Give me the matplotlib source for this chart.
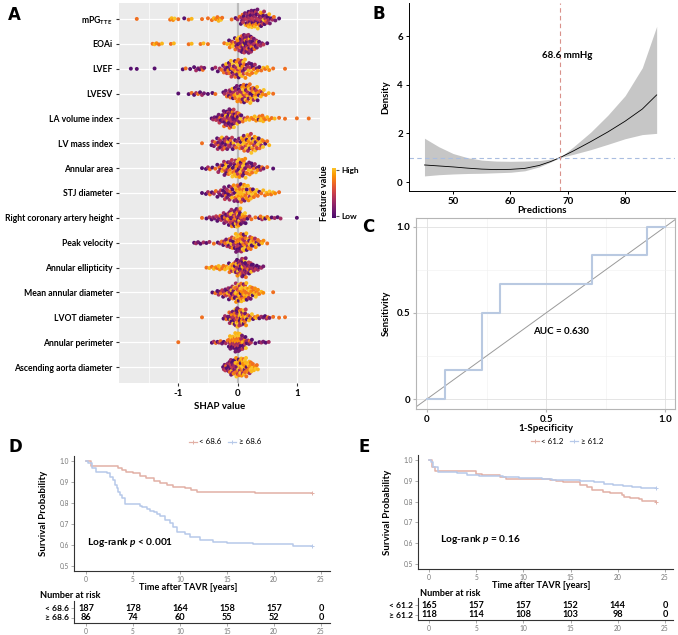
import numpy as np
import matplotlib
matplotlib.use('Agg')
import matplotlib.pyplot as plt
from matplotlib.lines import Line2D

plt.rcParams['font.family'] = ['Lato', 'DejaVu Sans']
plt.rcParams['font.weight'] = 'bold'
plt.rcParams['mathtext.fontset'] = 'custom'
plt.rcParams['mathtext.rm'] = 'Lato:bold'
plt.rcParams['mathtext.bf'] = 'Lato:bold'
plt.rcParams['mathtext.it'] = 'Lato:bold:italic'

# ---------------- panel A: SHAP values, (bin centre, n low-value, n high-value)
features = [r'mPG$_{\mathregular{TTE}}$', 'EOAi', 'LVEF', 'LVESV', 'LA volume index',
            'LV mass index', 'Annular area', 'STJ diameter', 'Right coronary artery height',
            'Peak velocity', 'Annular ellipticity', 'Mean annular diameter',
            'LVOT diameter', 'Annular perimeter', 'Ascending aorta diameter']

mpg_tte = [(-1.7, 0, 1), (-1.1, 0, 4), (-1.0, 0, 1), (-0.9, 1, 0), (-0.8, 0, 2), (-0.6, 0, 1),
           (-0.5, 0, 1), (-0.4, 0, 3), (-0.3, 0, 5), (-0.1, 0, 1), (0.0, 2, 1), (0.1, 8, 2),
           (0.2, 12, 4), (0.3, 12, 4), (0.4, 10, 4), (0.5, 7, 2), (0.6, 3, 1), (0.7, 1, 0)]
eoai = [(-1.4, 0, 3), (-1.3, 0, 2), (-1.1, 0, 2), (-0.8, 0, 2), (-0.6, 0, 2), (-0.5, 0, 1),
        (-0.2, 0, 2), (-0.1, 2, 6), (0.0, 7, 5), (0.1, 19, 3), (0.2, 17, 3), (0.3, 8, 2),
        (0.4, 4, 0), (0.5, 1, 0)]
lvef = [(-1.8, 1, 0), (-1.7, 1, 0), (-1.4, 1, 0), (-0.9, 1, 1), (-0.8, 1, 0), (-0.7, 3, 0),
        (-0.6, 3, 1), (-0.4, 2, 0), (-0.3, 2, 1), (-0.2, 5, 3), (-0.1, 7, 5), (0.0, 6, 8),
        (0.1, 6, 8), (0.2, 5, 5), (0.3, 3, 3), (0.4, 1, 2), (0.5, 0, 3), (0.6, 0, 1), (0.8, 0, 1)]
lvesv = [(-1.0, 1, 0), (-0.8, 1, 1), (-0.7, 2, 1), (-0.6, 3, 0), (-0.5, 1, 0), (-0.4, 1, 1),
         (-0.2, 4, 1), (-0.1, 6, 3), (0.0, 6, 6), (0.1, 7, 9), (0.2, 6, 9), (0.3, 5, 7),
         (0.4, 2, 4), (0.5, 0, 2), (0.6, 0, 1)]
la_volume = [(-0.4, 4, 0), (-0.3, 7, 1), (-0.2, 13, 3), (-0.1, 18, 4), (0.0, 8, 4), (0.1, 2, 2),
             (0.2, 0, 3), (0.3, 0, 4), (0.4, 1, 7), (0.5, 0, 3), (0.6, 0, 2), (0.7, 0, 1),
             (0.8, 0, 1), (1.0, 0, 1), (1.2, 0, 1)]
lv_mass = [(-0.6, 0, 1), (-0.4, 4, 1), (-0.3, 8, 2), (-0.2, 8, 2), (-0.1, 6, 2), (0.0, 3, 3),
           (0.1, 4, 8), (0.2, 4, 10), (0.3, 4, 8), (0.4, 2, 5), (0.5, 1, 2)]
annular_area = [(-0.6, 1, 0), (-0.5, 2, 1), (-0.4, 1, 1), (-0.3, 4, 2), (-0.2, 7, 5), (-0.1, 6, 6),
                (0.0, 6, 8), (0.1, 7, 9), (0.2, 5, 5), (0.3, 3, 3), (0.4, 3, 1), (0.5, 0, 1), (0.6, 1, 0)]
stj = [(-0.6, 1, 0), (-0.5, 2, 1), (-0.4, 2, 1), (-0.3, 5, 0), (-0.2, 9, 1), (-0.1, 7, 3),
       (0.0, 4, 10), (0.1, 3, 11), (0.2, 2, 8), (0.3, 1, 5), (0.4, 1, 2), (0.5, 0, 4),
       (0.6, 0, 3), (0.7, 0, 1)]
rca_height = [(-0.6, 0, 1), (-0.5, 2, 0), (-0.4, 4, 0), (-0.3, 5, 1), (-0.2, 8, 2), (-0.1, 11, 5),
              (0.0, 14, 10), (0.1, 5, 5), (0.2, 2, 1), (0.3, 0, 1), (0.4, 2, 2), (0.5, 1, 2),
              (0.6, 2, 0), (0.7, 2, 0), (1.0, 1, 0)]
peak_velocity = [(-0.7, 3, 0), (-0.6, 2, 0), (-0.5, 2, 0), (-0.4, 0, 1), (-0.3, 2, 1), (-0.2, 4, 2),
                 (-0.1, 6, 4), (0.0, 9, 9), (0.1, 8, 10), (0.2, 5, 7), (0.3, 3, 5), (0.4, 1, 3),
                 (0.5, 0, 1)]
ellipticity = [(-0.5, 0, 2), (-0.4, 0, 3), (-0.3, 0, 5), (-0.2, 0, 4), (-0.1, 2, 8), (0.0, 10, 6),
               (0.1, 21, 5), (0.2, 10, 2), (0.3, 6, 0), (0.4, 3, 0)]
mean_annular = [(-0.4, 1, 1), (-0.3, 4, 1), (-0.2, 6, 2), (-0.1, 8, 4), (0.0, 6, 12), (0.1, 4, 14),
                (0.2, 3, 9), (0.3, 1, 7), (0.4, 0, 3), (0.6, 0, 1)]
lvot = [(-0.6, 0, 1), (-0.2, 3, 1), (-0.1, 9, 5), (0.0, 14, 12), (0.1, 8, 12), (0.2, 2, 4),
        (0.3, 1, 3), (0.4, 3, 0), (0.5, 3, 1), (0.6, 0, 1), (0.7, 0, 1), (0.8, 0, 1)]
annular_perimeter = [(-1.0, 0, 1), (-0.4, 2, 1), (-0.3, 3, 1), (-0.2, 2, 1), (-0.1, 8, 8),
                     (0.0, 16, 16), (0.1, 10, 4), (0.2, 5, 1), (0.3, 1, 0), (0.4, 3, 0), (0.5, 2, 0)]
ascending_aorta = [(-0.2, 7, 1), (-0.1, 15, 3), (0.0, 6, 12), (0.1, 3, 17), (0.2, 2, 12), (0.3, 0, 6)]

shap_rows = [mpg_tte, eoai, lvef, lvesv, la_volume, lv_mass, annular_area, stj, rca_height,
             peak_velocity, ellipticity, mean_annular, lvot, annular_perimeter, ascending_aorta]

# ---------------- panel B: calibration density curve
pred_x = [45, 47.5, 50, 52.5, 55, 57.5, 60, 62.5, 65, 67, 68.6, 71, 74, 77, 80, 83, 85.5]
dens_fit = [0.70, 0.66, 0.62, 0.57, 0.53, 0.51, 0.52, 0.56, 0.68, 0.84, 1.0, 1.28, 1.66, 2.06, 2.5, 3.0, 3.58]
dens_lower = [0.25, 0.30, 0.33, 0.35, 0.36, 0.38, 0.40, 0.46, 0.62, 0.82, 1.0, 1.14, 1.33, 1.55, 1.78, 1.95, 2.0]
dens_upper = [1.80, 1.45, 1.17, 1.0, 0.90, 0.86, 0.85, 0.86, 0.88, 0.94, 1.0, 1.45, 2.05, 2.75, 3.55, 4.70, 6.4]
cutoff = 68.6

# ---------------- panel C: ROC
roc_fpr = [0, 1/13, 1/13, 3/13, 3/13, 4/13, 4/13, 9/13, 9/13, 12/13, 12/13, 1]
roc_tpr = [0, 0, 1/6, 1/6, 3/6, 3/6, 4/6, 4/6, 5/6, 5/6, 1, 1]

# ---------------- panels D, E: Kaplan-Meier
d_lo_t = [0, 0.5, 3.4, 3.8, 4.3, 5.0, 5.7, 6.4, 7.2, 7.9, 8.6, 9.3, 10.5, 11.2, 11.8, 18.0, 24.0]
d_lo_s = [1.0, 0.978, 0.968, 0.958, 0.949, 0.941, 0.930, 0.917, 0.906, 0.894, 0.885, 0.875, 0.870,
          0.862, 0.854, 0.848, 0.848]
d_hi_t = [0, 0.25, 0.6, 1.1, 2.2, 2.55, 2.9, 3.1, 3.3, 3.45, 3.6, 3.8, 4.15, 5.7, 6.0, 6.45, 6.8,
          7.2, 7.6, 7.9, 8.4, 8.9, 9.3, 9.65, 10.5, 11.1, 12.1, 13.5, 15.0, 17.8, 22.0, 24.0]
d_hi_s = [1.0, 0.989, 0.965, 0.950, 0.941, 0.925, 0.910, 0.886, 0.870, 0.854, 0.838, 0.822, 0.795,
          0.787, 0.779, 0.770, 0.763, 0.755, 0.748, 0.740, 0.719, 0.703, 0.684, 0.663, 0.652, 0.637,
          0.624, 0.616, 0.608, 0.603, 0.595, 0.595]
e_lo_t = [0, 0.3, 0.6, 5.0, 5.6, 7.5, 8.2, 12.8, 13.5, 14.2, 16.0, 16.7, 17.3, 18.4, 19.2, 20.4,
          20.7, 21.3, 22.2, 22.6, 24.0]
e_lo_s = [1.0, 0.965, 0.948, 0.934, 0.928, 0.918, 0.910, 0.905, 0.900, 0.894, 0.880, 0.870, 0.858,
          0.847, 0.842, 0.830, 0.820, 0.815, 0.812, 0.804, 0.800]
e_hi_t = [0, 0.2, 0.4, 0.9, 3.0, 4.0, 5.3, 7.8, 9.5, 12.0, 13.0, 14.5, 16.0, 17.5, 18.5, 19.5,
          20.5, 21.5, 22.5, 24.0]
e_hi_s = [1.0, 0.990, 0.965, 0.942, 0.936, 0.930, 0.925, 0.920, 0.915, 0.910, 0.906, 0.902, 0.897,
          0.892, 0.887, 0.882, 0.877, 0.872, 0.867, 0.867]
risk_times = [0, 5, 10, 15, 20, 25]
d_risk_lo = [187, 178, 164, 158, 157, 0]
d_risk_hi = [86, 74, 60, 55, 52, 0]
e_risk_lo = [165, 157, 157, 152, 144, 0]
e_risk_hi = [118, 114, 108, 103, 98, 0]

KM_RED = '#e2b0a6'
KM_BLUE = '#b7c9e9'

W, H = 678, 635
fig = plt.figure(figsize=(W / 100, H / 100), dpi=100)


def add_ax(x0, y0, x1, y1):
    return fig.add_axes([x0 / W, 1 - y1 / H, (x1 - x0) / W, (y1 - y0) / H])


def ftext(x, y, s, **kw):
    return fig.text(x / W, 1 - y / H, s, **kw)


cmap = matplotlib.colormaps['inferno']


def fv_color(v):
    return cmap(0.22 + 0.64 * v)


def vdc(i):
    v, den = 0.0, 1.0
    while i:
        den *= 2
        i, r = divmod(i, 2)
        v += r / den
    return v


# ================= A =================
axA = add_ax(119, 3, 320, 383)
axA.set_facecolor('#ebebeb')
lo_shades = [0.05, 0.34, 0.16, 0.45]
hi_shades = [0.72, 0.96, 0.82, 1.0]
ys = np.arange(len(features))[::-1] + 1
for row, y0 in zip(shap_rows, ys):
    row = sorted(row)
    cnt = {round(c, 1): lo + hi for c, lo, hi in row}
    xs, cs, ds = [], [], []
    for c, lo, hi in row:
        n = lo + hi
        tags = [(k / lo, 0, k) for k in range(lo)] + [((k + 0.5) / hi, 1, k) for k in range(hi)]
        tags.sort()
        d = 0.5 * n + 0.25 * (cnt.get(round(c - 0.1, 1), 0) + cnt.get(round(c + 0.1, 1), 0))
        for j, (_, grp, k) in enumerate(tags):
            xs.append(c + ((j + 0.5) / n - 0.5) * 0.1)
            cs.append(fv_color(lo_shades[k % 4] if grp == 0 else hi_shades[k % 4]))
            ds.append(d)
    ds = np.array(ds) / max(ds)
    offs = np.array([(2 * vdc(i + 1) - 1) for i in range(len(xs))]) * 0.39 * ds
    axA.scatter(xs, y0 + offs, s=8, c=cs, linewidths=0, zorder=3)

axA.axvline(0, color='#bdbdbd', lw=1.6, zorder=2)
axA.set_xlim(-2.0, 1.39)
axA.set_ylim(0.36, len(features) + 0.64)
axA.set_xticks([-1, 0, 1])
axA.set_xticklabels(['-1', '0', '1'])
axA.set_xticks([-1.5, -0.5, 0.5], minor=True)
axA.set_yticks(ys)
axA.set_yticklabels(features)
axA.grid(True, which='major', color='white', lw=0.9, zorder=0)
axA.grid(True, which='minor', axis='x', color='white', lw=0.5, zorder=0)
axA.set_axisbelow(True)
for s in axA.spines.values():
    s.set_visible(False)
axA.tick_params(axis='both', which='major', length=2.5, color='#333333', labelsize=6.2, pad=2)
axA.tick_params(axis='x', labelsize=7)
axA.tick_params(axis='x', which='minor', length=0)
axA.set_xlabel('SHAP value', fontsize=7, fontweight='bold', labelpad=3)

cax = add_ax(332, 168, 336, 218)
cax.imshow(np.linspace(0, 1, 100)[:, None], aspect='auto', origin='lower',
           cmap=matplotlib.colors.ListedColormap([fv_color(v) for v in np.linspace(0, 1, 100)]),
           extent=[0, 1, 0, 1])
cax.set_xticks([])
cax.yaxis.tick_right()
cax.set_yticks([0.04, 0.96])
cax.set_yticklabels(['Low', 'High'])
cax.tick_params(axis='y', length=2.5, color='#555555', labelsize=6, pad=1.5)
for s in cax.spines.values():
    s.set_visible(False)
cax.set_ylabel('Feature value', fontsize=6.6, fontweight='bold', labelpad=2)

# ================= B =================
axB = add_ax(409, 3, 675, 191)
axB.fill_between(pred_x, dens_lower, dens_upper, color='#c6c6c6', lw=0)
axB.plot(pred_x, dens_fit, color='black', lw=0.6)
axB.axhline(1, color='#a9bde0', ls=(0, (4, 3)), lw=0.8)
axB.axvline(cutoff, color='#d9918a', ls=(0, (4, 3)), lw=0.8)
axB.text(cutoff + 1.3, 5.2, f'{cutoff} mmHg', ha='center', va='center', fontsize=7, fontweight='bold')
axB.set_xlim(42.3, 88.7)
axB.set_ylim(-0.37, 7.36)
axB.set_xticks([50, 60, 70, 80])
axB.set_yticks([0, 2, 4, 6])
for s in ['top', 'right']:
    axB.spines[s].set_visible(False)
for s in ['left', 'bottom']:
    axB.spines[s].set_linewidth(0.7)
axB.tick_params(length=2.5, width=0.7, labelsize=7, pad=2)
axB.set_xlabel('Predictions', fontsize=7, fontweight='bold', labelpad=0)
axB.set_ylabel('Density', fontsize=7, fontweight='bold', labelpad=5)

# ================= C =================
axC = add_ax(416, 218, 675, 409)
axC.plot(roc_fpr, roc_tpr, color='#b9c9e1', lw=1.5, zorder=3)
axC.axline((0, 0), (1, 1), color='#9a9a9a', lw=0.7, zorder=2)
axC.text(0.56, 0.39, 'AUC = 0.630', ha='center', va='center', fontsize=7, fontweight='bold')
axC.set_xlim(-0.046, 1.04)
axC.set_ylim(-0.058, 1.05)
axC.set_xticks([0, 0.5, 1.0])
axC.set_xticklabels(['0', '0.5', '1.0'])
axC.set_yticks([0, 0.5, 1.0])
axC.set_yticklabels(['0', '0.5', '1.0'])
axC.set_xticks([0.25, 0.75], minor=True)
axC.set_yticks([0.25, 0.75], minor=True)
axC.grid(True, which='major', color='#e0e0e0', lw=0.6)
axC.grid(True, which='minor', color='#f0f0f0', lw=0.4)
axC.set_axisbelow(True)
for s in axC.spines.values():
    s.set_color('#b5b5b5')
    s.set_linewidth(0.8)
axC.tick_params(which='major', length=2, color='#b5b5b5', labelsize=7, pad=2)
axC.tick_params(which='minor', length=0)
axC.set_xlabel('1-Specificity', fontsize=7, fontweight='bold', labelpad=0)
axC.set_ylabel('Sensitivity', fontsize=7, fontweight='bold', labelpad=4)


# ================= D, E =================
def km_panel(box, tbox, xlim, curves, labels, risks, ptext, pxy, ylab_x, xlab_x, nar_x, leg_xy):
    ax = add_ax(*box)
    for (t, s), col in zip(curves, [KM_RED, KM_BLUE]):
        ax.step(t, s, where='post', color=col, lw=1.1)
        ax.plot(t[-1], s[-1], marker='+', color=col, ms=3.5, mew=0.7)
    ax.text(pxy[0], pxy[1], ptext, fontsize=7.3, fontweight='bold', va='center')
    ax.set_xlim(*xlim)
    ax.set_ylim(0.476, 1.024)
    ax.set_xticks(risk_times)
    ax.set_yticks([0.5, 0.6, 0.7, 0.8, 0.9, 1.0])
    ax.set_yticklabels(['0.5', '0.6', '0.7', '0.8', '0.9', '1.0'])
    for s in ['top', 'right']:
        ax.spines[s].set_visible(False)
    for s in ['left', 'bottom']:
        ax.spines[s].set_linewidth(0.8)
        ax.spines[s].set_color('#333333')
    ax.tick_params(length=2, width=0.5, color='#888888', labelcolor='#777777', labelsize=4.8, pad=1.5)
    for lab in ax.get_xticklabels() + ax.get_yticklabels():
        lab.set_fontweight('normal')
    ftext(ylab_x, (box[1] + box[3]) / 2 + 0, 'Survival Probability', rotation=90, ha='center',
          va='center', fontsize=7, fontweight='bold')
    ftext(xlab_x, box[3] + 16.5, 'Time after TAVR [years]', ha='center', va='center', fontsize=6.6,
          fontweight='bold')
    ftext(nar_x, box[3] + 24, 'Number at risk', ha='left', va='center', fontsize=6.6, fontweight='bold')
    handles = [Line2D([], [], color=c, lw=0.9, marker='+', ms=3.5, mew=0.7) for c in [KM_RED, KM_BLUE]]
    fig.legend(handles, labels, loc='center', bbox_to_anchor=(leg_xy[0] / W, 1 - leg_xy[1] / H),
               ncol=2, frameon=False, handlelength=1.0, handletextpad=0.3,
               columnspacing=0.8, prop={'weight': 'normal', 'size': 5.8})

    tax = add_ax(*tbox)
    tax.set_xlim(*xlim)
    tax.set_ylim(0, 1)
    for row_y, nums in zip([0.68, 0.25], risks):
        for t, n in zip(risk_times, nums):
            tax.text(t, row_y, str(n), ha='center', va='center', fontsize=6.6, fontweight='bold')
    tax.set_yticks([0.68, 0.25])
    tax.set_yticklabels(labels)
    tax.set_xticks(risk_times)
    for s in ['top', 'right']:
        tax.spines[s].set_visible(False)
    for s in ['left', 'bottom']:
        tax.spines[s].set_linewidth(0.8)
        tax.spines[s].set_color('#333333')
    tax.tick_params(axis='x', length=2, width=0.5, color='#888888', labelcolor='#777777',
                    labelsize=4.8, pad=1.5)
    tax.tick_params(axis='y', length=2, width=0.5, color='#888888', labelsize=6.1, pad=1.5)
    for lab in tax.get_xticklabels():
        lab.set_fontweight('normal')
    return ax


km_panel((74, 456, 330, 571), (74, 601, 330, 623), (-1.28, 25.96),
         [(d_lo_t, d_lo_s), (d_hi_t, d_hi_s)], ['< 68.6', '≥ 68.6'], [d_risk_lo, d_risk_hi],
         r'Log-rank $p$ < 0.001', (0.1, 0.614), 43, 188, 40, (225, 442))
km_panel((418, 455, 673, 569), (418, 598, 673, 620), (-1.17, 25.85),
         [(e_lo_t, e_lo_s), (e_hi_t, e_hi_s)], ['< 61.2', '≥ 61.2'], [e_risk_lo, e_risk_hi],
         r'Log-rank $p$ = 0.16', (1.2, 0.618), 387, 541, 420, (567, 441))

# panel letters
for x, y, s in [(8, 15, 'A'), (373, 14, 'B'), (362, 227, 'C'), (8, 447, 'D'), (358, 447, 'E')]:
    ftext(x, y, s, fontsize=12, fontweight='bold', ha='left', va='center', family='DejaVu Sans')

fig.savefig('out.png', dpi=100)
